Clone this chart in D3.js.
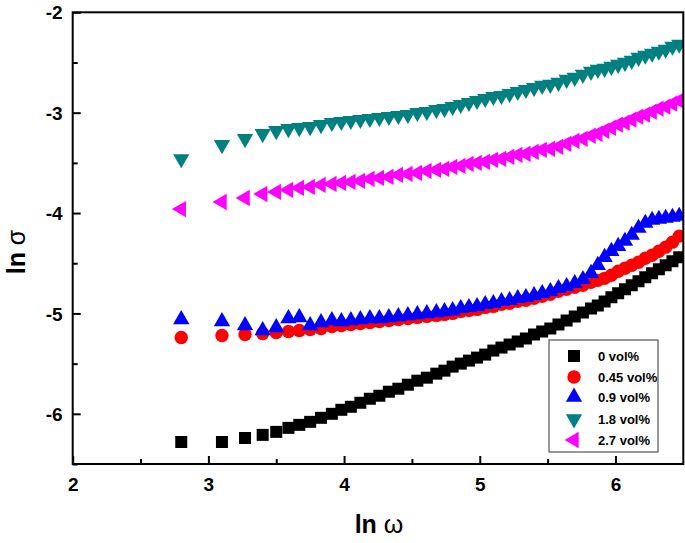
<!DOCTYPE html>
<html><head><meta charset="utf-8">
<script src="https://cdn.jsdelivr.net/npm/d3@7"></script>
<style>body{margin:0;background:#fff}svg{display:block}text{font-family:"Liberation Sans",Arial,sans-serif}</style>
</head><body><svg id="c" width="685" height="543"></svg>
<script>
const lnOmega = [2.80,3.10,3.27,3.40,3.50,3.59,3.67,3.75,3.83,3.91,3.98,4.05,4.12,4.19,4.26,4.33,4.40,4.47,4.54,4.61,4.68,4.74,4.80,4.86,4.92,4.98,5.04,5.10,5.16,5.22,5.28,5.34,5.40,5.46,5.52,5.58,5.64,5.70,5.76,5.82,5.87,5.92,5.97,6.02,6.07,6.12,6.17,6.22,6.27,6.32,6.37,6.42,6.47];
const s0 = [-6.28,-6.28,-6.24,-6.21,-6.18,-6.14,-6.11,-6.08,-6.04,-6.00,-5.96,-5.93,-5.89,-5.85,-5.82,-5.78,-5.75,-5.71,-5.67,-5.64,-5.60,-5.57,-5.53,-5.50,-5.47,-5.44,-5.41,-5.37,-5.34,-5.31,-5.28,-5.25,-5.21,-5.18,-5.15,-5.11,-5.07,-5.03,-4.99,-4.95,-4.92,-4.88,-4.84,-4.80,-4.76,-4.72,-4.68,-4.64,-4.60,-4.56,-4.52,-4.48,-4.44];
const s045 = [-5.24,-5.22,-5.21,-5.20,-5.19,-5.18,-5.17,-5.16,-5.15,-5.13,-5.12,-5.11,-5.10,-5.09,-5.08,-5.07,-5.06,-5.05,-5.04,-5.03,-5.02,-5.01,-5.00,-4.98,-4.97,-4.96,-4.94,-4.93,-4.91,-4.90,-4.88,-4.87,-4.85,-4.83,-4.81,-4.78,-4.76,-4.74,-4.72,-4.69,-4.67,-4.65,-4.62,-4.58,-4.55,-4.52,-4.49,-4.45,-4.42,-4.38,-4.34,-4.29,-4.23];
const s09 = [-5.06,-5.08,-5.12,-5.17,-5.14,-5.05,-5.04,-5.12,-5.09,-5.07,-5.08,-5.07,-5.06,-5.05,-5.05,-5.04,-5.03,-5.02,-5.01,-5.00,-4.99,-4.98,-4.97,-4.95,-4.94,-4.93,-4.91,-4.90,-4.88,-4.87,-4.85,-4.84,-4.82,-4.80,-4.78,-4.75,-4.73,-4.70,-4.66,-4.60,-4.52,-4.44,-4.38,-4.33,-4.28,-4.22,-4.15,-4.10,-4.07,-4.06,-4.05,-4.04,-4.03];
const s18 = [-3.46,-3.32,-3.26,-3.21,-3.18,-3.16,-3.15,-3.14,-3.12,-3.10,-3.09,-3.08,-3.07,-3.06,-3.05,-3.04,-3.03,-3.02,-3.00,-2.99,-2.97,-2.96,-2.94,-2.92,-2.90,-2.88,-2.86,-2.84,-2.83,-2.81,-2.79,-2.77,-2.75,-2.73,-2.72,-2.70,-2.67,-2.65,-2.62,-2.59,-2.57,-2.56,-2.54,-2.52,-2.50,-2.48,-2.45,-2.43,-2.41,-2.39,-2.37,-2.34,-2.32];
const s27 = [-3.96,-3.89,-3.85,-3.81,-3.79,-3.77,-3.75,-3.74,-3.72,-3.71,-3.70,-3.69,-3.68,-3.66,-3.65,-3.64,-3.62,-3.61,-3.60,-3.58,-3.57,-3.56,-3.54,-3.53,-3.51,-3.50,-3.49,-3.47,-3.46,-3.44,-3.42,-3.41,-3.39,-3.37,-3.36,-3.34,-3.31,-3.28,-3.26,-3.23,-3.21,-3.18,-3.15,-3.12,-3.10,-3.07,-3.04,-3.02,-2.99,-2.96,-2.94,-2.91,-2.88];
const seriesNames = ["0 vol%","0.45 vol%","0.9 vol%","1.8 vol%","2.7 vol%"];
const seriesColors = ["#000000","#ff0000","#0000ff","#008080","#ff00ff"];
const seriesValues = [s0,s045,s09,s18,s27];
const xTicks = [2,3,4,5,6];
const yTicks = [-6,-5,-4,-3,-2];

const svg = d3.select("#c");
const L=72.7, R=683.3, T=12.3, B=464;
const x = d3.scaleLinear().domain([2,6.5]).range([L,R]);
const y = d3.scaleLinear().domain([-6.5,-2]).range([B,T]);
const fmt = d => String(d);

const shapes = [
  {t:d3.symbolSquare, s:144, r:0},
  {t:d3.symbolCircle, s:140, r:0},
  {t:d3.symbolTriangle, s:115, r:0},
  {t:d3.symbolTriangle, s:115, r:180},
  {t:d3.symbolTriangle, s:115, r:-90}
];

svg.append("defs").append("clipPath").attr("id","clip")
  .append("rect").attr("x",L).attr("y",T).attr("width",R-L).attr("height",B-T);

const plot = svg.append("g").attr("clip-path","url(#clip)");
seriesValues.forEach((vals,i)=>{
  const sh = shapes[i];
  const p = d3.symbol().type(sh.t).size(sh.s)();
  plot.append("g").selectAll("path").data(vals).join("path")
    .attr("d",p)
    .attr("fill",seriesColors[i])
    .attr("transform",(d,j)=>`translate(${x(lnOmega[j])},${y(d)}) rotate(${sh.r})`);
});

// axes
const xAx = svg.append("g").attr("transform",`translate(0,${B})`)
  .call(d3.axisBottom(x).tickValues(xTicks).tickSizeInner(-8).tickSizeOuter(0).tickPadding(14).tickFormat(fmt));
const xMinor = svg.append("g").attr("transform",`translate(0,${B})`)
  .call(d3.axisBottom(x).tickValues([2.5,3.5,4.5,5.5]).tickSizeInner(-5).tickSizeOuter(0).tickFormat(""));
const yAx = svg.append("g").attr("transform",`translate(${L},0)`)
  .call(d3.axisLeft(y).tickValues(yTicks).tickSizeInner(-8).tickSizeOuter(0).tickPadding(10).tickFormat(fmt));
const yMinor = svg.append("g").attr("transform",`translate(${L},0)`)
  .call(d3.axisLeft(y).tickValues([-6.5,-5.5,-4.5,-3.5,-2.5]).tickSizeInner(-5).tickSizeOuter(0).tickFormat(""));
[xAx,xMinor,yAx,yMinor].forEach(g=>{
  g.selectAll(".domain").remove();
  g.selectAll(".tick line").attr("stroke","#000").attr("stroke-width",2);
  g.selectAll(".tick text").attr("font-size",19).attr("font-weight","bold").attr("fill","#000")
   .attr("font-family","Liberation Sans, Arial, sans-serif");
});
xAx.selectAll(".tick text").attr("dy","0.71em");
yAx.selectAll(".tick text").attr("dy","0.35em");

svg.append("rect").attr("x",L).attr("y",T).attr("width",R-L).attr("height",B-T)
  .attr("fill","none").attr("stroke","#000").attr("stroke-width",2);

// titles
const xt = svg.append("text").attr("x",379).attr("y",533).attr("text-anchor","middle")
  .attr("font-size",25).attr("fill","#000");
xt.append("tspan").attr("font-weight","bold").text("ln ");
xt.append("tspan").text("ω");
const yt = svg.append("text").attr("transform","translate(25,252) rotate(-90)").attr("text-anchor","middle")
  .attr("font-size",25).attr("fill","#000");
yt.append("tspan").attr("font-weight","bold").text("ln ");
yt.append("tspan").text("σ");

// legend
const lg = svg.append("g");
lg.append("rect").attr("x",549).attr("y",340).attr("width",109).attr("height",112)
  .attr("fill","#fff").attr("stroke","#333").attr("stroke-width",1);
const rowsY = [356,377,397,419,440];
seriesNames.forEach((n,i)=>{
  const sh = shapes[i];
  lg.append("path").attr("d",d3.symbol().type(sh.t).size(sh.s)())
    .attr("fill",seriesColors[i])
    .attr("transform",`translate(574,${rowsY[i]}) rotate(${sh.r})`);
  lg.append("text").attr("x",598).attr("y",rowsY[i]).attr("dy","0.35em")
    .attr("font-size",13).attr("font-weight","bold").attr("fill","#000").text(n);
});
</script></body></html>
